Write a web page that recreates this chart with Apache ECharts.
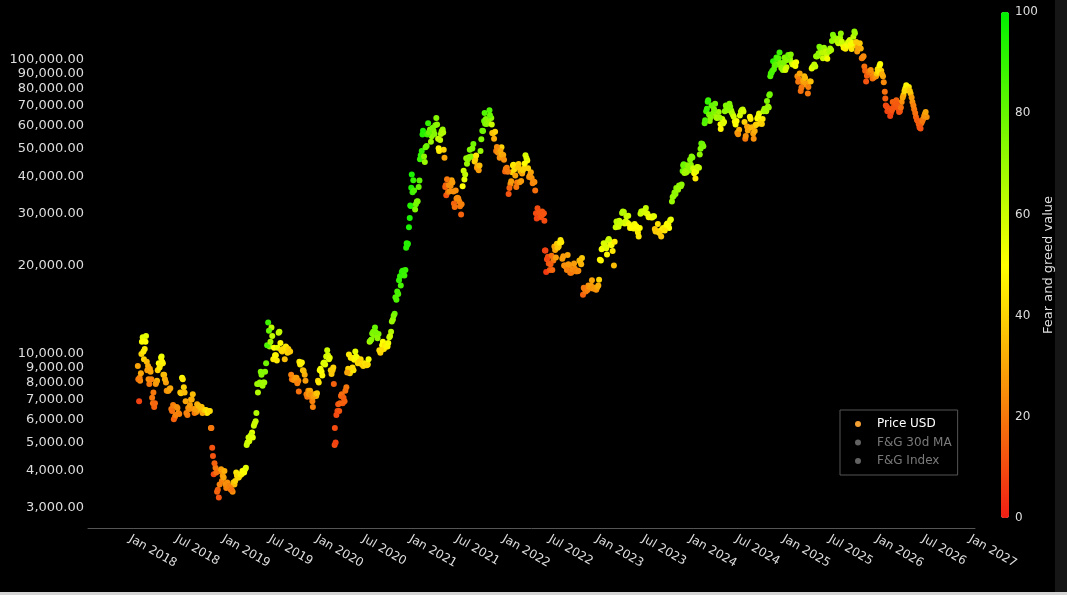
<!DOCTYPE html>
<html>
<head>
<meta charset="utf-8">
<script src="https://cdn.jsdelivr.net/npm/echarts@6/dist/echarts.min.js"></script>
<style>
html,body{margin:0;padding:0;background:#d4d4d4;}
#wrap{width:1067px;height:592px;background:#161616;}
#chart{width:1055px;height:592px;background:#000;}
</style>
</head>
<body>
<div id="wrap"><div id="chart"></div></div>
<script>
// [date, price USD, fear & greed value]
const d2018 = [
['2018-02-01',9100,30],['2018-02-06',6900,8],['2018-02-10',8100,25],['2018-02-15',10000,40],['2018-02-20',11400,55],
['2018-02-25',9600,40],['2018-03-03',11000,50],['2018-03-08',9400,35],['2018-03-13',9100,32],['2018-03-18',7900,20],
['2018-03-23',8700,30],['2018-03-29',7100,20],['2018-04-01',6800,18],['2018-04-06',6600,15],['2018-04-12',7900,25],
['2018-04-17',8100,35],['2018-04-24',9300,50],['2018-05-01',9200,45],['2018-05-05',9800,55],['2018-05-10',9300,45],
['2018-05-15',8500,35],['2018-05-22',8000,28],['2018-05-29',7500,25],['2018-06-05',7600,28],['2018-06-12',6500,20],
['2018-06-19',6700,22],['2018-06-26',6100,18],['2018-07-03',6600,25],['2018-07-10',6300,25],['2018-07-17',7400,35],
['2018-07-24',8300,50],['2018-07-31',7700,40],['2018-08-07',6900,30],['2018-08-14',6200,20],['2018-08-21',6500,25],
['2018-08-28',7000,30],['2018-09-04',7300,35],['2018-09-11',6300,20],['2018-09-18',6350,25],['2018-09-25',6450,30],
['2018-10-02',6550,35],['2018-10-09',6600,38],['2018-10-16',6450,32],['2018-10-23',6400,40],['2018-10-30',6300,45],
['2018-11-06',6400,40],['2018-11-14',5600,25],['2018-11-19',4800,12],['2018-11-25',3900,10],['2018-12-02',4100,20],
['2018-12-08',3400,15],['2018-12-15',3250,12],['2018-12-20',4000,25],['2018-12-27',3700,22],
['2018-02-03',8200,20],['2018-02-08',8300,22],['2018-02-13',8600,30],['2018-02-17',11000,50],['2018-02-23',10200,45],
['2018-02-28',10400,45],['2018-03-05',11500,55],['2018-03-10',8800,28],['2018-03-15',8200,25],['2018-03-20',8900,30],
['2018-03-26',8200,22],['2018-04-03',7400,20],['2018-04-09',6800,16],['2018-04-14',8000,28],['2018-04-20',8800,40],
['2018-04-27',9000,45],['2018-05-03',9700,52],['2018-05-07',9400,48],['2018-05-12',8500,35],['2018-05-18',8200,32],
['2018-05-25',7500,25],['2018-06-01',7500,28],['2018-06-08',7650,30],['2018-06-15',6400,18],['2018-06-22',6000,15],
['2018-06-29',6200,22],['2018-07-06',6550,25],['2018-07-13',6250,22],['2018-07-20',7350,38],['2018-07-27',8200,45],
['2018-08-03',7400,35],['2018-08-10',6300,22],['2018-08-17',6550,25],['2018-08-24',6700,28],['2018-08-31',7000,32],
['2018-09-07',6500,25],['2018-09-14',6500,28],['2018-09-21',6750,32],['2018-09-28',6650,35],['2018-10-05',6600,35],
['2018-10-12',6300,30],['2018-10-19',6450,38],['2018-10-26',6450,42],['2018-11-02',6350,45],['2018-11-10',6400,42],
['2018-11-16',5600,20],['2018-11-22',4500,12],['2018-11-28',4250,15],['2018-12-05',3950,18],['2018-12-11',3450,15],
['2018-12-18',3600,22],['2018-12-24',4050,28],['2018-12-30',3850,28]
];
const d2019 = [
['2019-01-03',3800,30],['2019-01-10',3600,25],['2019-01-17',3650,25],['2019-01-24',3550,22],['2019-01-31',3450,20],
['2019-02-07',3400,25],['2019-02-14',3600,35],['2019-02-21',3950,45],['2019-02-28',3800,40],['2019-03-07',3850,45],
['2019-03-14',3900,48],['2019-03-21',4000,50],['2019-03-28',4050,55],['2019-04-03',4900,60],['2019-04-10',5200,58],
['2019-04-17',5250,60],['2019-04-24',5400,55],['2019-05-01',5700,60],['2019-05-08',5900,62],['2019-05-14',7900,68],
['2019-05-21',7900,70],['2019-05-28',8700,75],['2019-06-04',7800,68],['2019-06-11',8000,70],['2019-06-18',9300,78],
['2019-06-26',12800,88],['2019-07-02',10600,70],['2019-07-09',12300,62],['2019-07-16',9600,45],['2019-07-23',9900,50],
['2019-07-30',9500,45],['2019-08-06',11800,60],['2019-08-13',10900,50],['2019-08-20',10200,38],['2019-08-27',10300,40],
['2019-09-03',10600,45],['2019-09-10',10100,40],['2019-09-17',10200,40],['2019-09-24',8500,22],['2019-10-01',8300,25],
['2019-10-08',8200,28],['2019-10-15',8300,30],['2019-10-22',8100,25],['2019-10-26',9400,45],['2019-11-02',9300,48],
['2019-11-09',8800,38],['2019-11-16',8500,32],['2019-11-23',7300,22],['2019-11-30',7500,25],['2019-12-07',7500,30],
['2019-12-14',7100,25],['2019-12-18',6600,22],['2019-12-24',7300,30],['2019-12-31',7200,35],
['2019-01-06',4000,32],['2019-01-13',3500,22],['2019-01-20',3550,24],['2019-01-27',3550,22],['2019-02-03',3450,20],
['2019-02-10',3650,35],['2019-02-17',3700,40],['2019-02-24',3850,42],['2019-03-03',3800,42],['2019-03-10',3900,46],
['2019-03-17',4000,50],['2019-03-24',3950,50],['2019-03-31',4100,55],['2019-04-06',5000,60],['2019-04-13',5050,58],
['2019-04-20',5300,60],['2019-04-27',5200,55],['2019-05-04',5800,60],['2019-05-11',6300,65],['2019-05-17',7400,65],
['2019-05-24',8000,70],['2019-05-31',8500,74],['2019-06-07',8000,68],['2019-06-14',8700,74],['2019-06-22',10700,85],
['2019-06-29',12000,80],['2019-07-05',11000,68],['2019-07-12',11500,62],['2019-07-19',10500,50],['2019-07-26',9900,48],
['2019-08-02',10500,55],['2019-08-09',11900,62],['2019-08-16',10300,42],['2019-08-23',10400,42],['2019-08-30',9600,35],
['2019-09-06',10500,45],['2019-09-13',10400,40],['2019-09-20',10200,38],['2019-09-27',8200,20],['2019-10-04',8150,25],
['2019-10-11',8300,28],['2019-10-18',7950,22],['2019-10-24',7450,18],['2019-10-29',9200,45],['2019-11-05',9350,48],
['2019-11-12',8750,35],['2019-11-19',8100,28],['2019-11-26',7150,20],['2019-12-03',7300,28],['2019-12-10',7250,25],
['2019-12-16',6900,22],['2019-12-21',7150,28],['2019-12-28',7300,32]
];
const d2020 = [
['2020-01-07',8100,40],['2020-01-14',8800,50],['2020-01-21',8700,50],['2020-01-28',9300,55],['2020-02-04',9200,55],
['2020-02-12',10300,60],['2020-02-19',9600,55],['2020-02-26',8800,40],['2020-03-04',8800,38],['2020-03-09',7900,15],
['2020-03-12',4900,10],['2020-03-16',5000,8],['2020-03-23',6400,10],['2020-03-30',6400,12],['2020-04-06',7200,15],
['2020-04-13',6800,12],['2020-04-20',6900,15],['2020-04-27',7700,20],['2020-05-04',8900,40],['2020-05-11',8600,40],
['2020-05-18',9700,48],['2020-05-25',8800,45],['2020-06-01',10200,55],['2020-06-08',9700,50],['2020-06-15',9400,40],
['2020-06-22',9600,42],['2020-06-29',9200,40],['2020-07-06',9300,45],['2020-07-13',9250,42],['2020-07-20',9200,44],
['2020-07-27',11000,65],['2020-08-03',11200,75],['2020-08-10',11900,75],['2020-08-17',12300,80],['2020-08-24',11700,78],
['2020-08-31',11700,75],['2020-09-07',10100,40],['2020-09-14',10700,50],['2020-09-21',10400,45],['2020-09-28',10800,48],
['2020-10-05',10600,50],['2020-10-12',11400,60],['2020-10-19',11900,65],['2020-10-26',13100,70],['2020-11-02',13700,80],
['2020-11-09',15300,85],['2020-11-16',16000,85],['2020-11-23',18400,90],['2020-11-30',19000,92],['2020-12-07',19200,90],
['2020-12-14',19300,88],['2020-12-17',23000,92],['2020-12-21',23500,92],['2020-12-28',27000,95],
['2020-01-03',7350,38],['2020-01-10',8000,45],['2020-01-17',8900,52],['2020-01-24',8450,48],['2020-01-31',9350,56],
['2020-02-08',9800,58],['2020-02-15',9900,58],['2020-02-22',9700,55],['2020-02-29',8550,38],['2020-03-07',9000,40],
['2020-03-13',5600,10],['2020-03-19',6200,10],['2020-03-26',6750,12],['2020-04-02',6800,15],['2020-04-09',7300,17],
['2020-04-16',7100,14],['2020-04-23',7500,18],['2020-04-30',8650,30],['2020-05-07',9950,45],['2020-05-14',9700,45],
['2020-05-21',9000,42],['2020-05-28',9550,48],['2020-06-04',9800,52],['2020-06-11',9300,42],['2020-06-18',9400,40],
['2020-06-25',9250,42],['2020-07-02',9100,40],['2020-07-09',9250,44],['2020-07-16',9150,42],['2020-07-23',9600,52],
['2020-07-30',11100,72],['2020-08-06',11750,76],['2020-08-13',11600,74],['2020-08-20',11850,76],['2020-08-27',11300,72],
['2020-09-03',10300,42],['2020-09-10',10300,42],['2020-09-17',11000,50],['2020-09-24',10700,46],['2020-10-01',10600,48],
['2020-10-08',10900,52],['2020-10-15',11500,60],['2020-10-22',12900,70],['2020-10-29',13500,75],['2020-11-05',15600,84],
['2020-11-12',16300,86],['2020-11-19',17800,90],['2020-11-26',17100,86],['2020-12-03',19200,90],['2020-12-10',18500,88],
['2020-12-19',23800,92],['2020-12-24',23700,93],['2020-12-31',29000,95]
];
const d2021 = [
['2021-01-04',31900,92],['2021-01-08',40800,95],['2021-01-14',39000,90],['2021-01-21',31000,75],['2021-01-28',33000,75],
['2021-02-04',37000,80],['2021-02-09',46000,88],['2021-02-16',49000,90],['2021-02-21',57500,94],['2021-02-28',45000,70],
['2021-03-07',51000,80],['2021-03-13',61000,90],['2021-03-20',58000,75],['2021-03-27',55000,72],['2021-04-03',57500,75],
['2021-04-10',60000,78],['2021-04-14',63500,74],['2021-04-21',54000,60],['2021-04-25',49000,45],['2021-05-02',56000,65],
['2021-05-09',58000,70],['2021-05-13',49500,40],['2021-05-19',37000,15],['2021-05-23',34700,12],['2021-05-30',35600,20],
['2021-06-06',35800,25],['2021-06-13',39000,30],['2021-06-20',35700,25],['2021-06-22',32500,15],['2021-06-29',36000,25],
['2021-07-06',34000,25],['2021-07-13',33000,22],['2021-07-20',29800,15],['2021-07-26',37200,50],['2021-08-02',39200,55],
['2021-08-09',46300,70],['2021-08-16',46000,72],['2021-08-23',49500,75],['2021-08-30',47000,72],['2021-09-06',51800,78],
['2021-09-08',46800,40],['2021-09-13',46000,38],['2021-09-20',43000,25],['2021-09-27',42200,28],['2021-10-04',49000,70],
['2021-10-11',57500,78],['2021-10-18',62000,80],['2021-10-20',66000,84],['2021-10-25',63000,75],['2021-11-01',61000,72],
['2021-11-08',67500,84],['2021-11-15',63500,72],['2021-11-19',56500,40],['2021-11-26',54000,32],['2021-12-04',49000,20],
['2021-12-11',48500,25],['2021-12-18',46500,25],['2021-12-25',50500,40],
['2021-01-02',32000,93],['2021-01-06',36800,94],['2021-01-11',35500,88],['2021-01-17',36000,85],['2021-01-24',32300,78],
['2021-01-31',33100,76],['2021-02-07',38900,82],['2021-02-12',47400,90],['2021-02-19',55800,93],['2021-02-25',47000,72],
['2021-03-03',50500,78],['2021-03-10',55800,86],['2021-03-16',56800,80],['2021-03-24',52700,70],['2021-03-31',58800,76],
['2021-04-07',56000,74],['2021-04-17',60300,72],['2021-04-23',50100,48],['2021-04-29',53500,62],['2021-05-05',57200,68],
['2021-05-11',56700,65],['2021-05-16',46500,30],['2021-05-21',37500,15],['2021-05-26',39300,20],['2021-06-02',37600,25],
['2021-06-09',37300,25],['2021-06-16',38300,28],['2021-06-25',31600,18],['2021-07-02',33800,24],['2021-07-09',33800,24],
['2021-07-16',31800,20],['2021-07-22',32300,22],['2021-07-30',42000,60],['2021-08-05',40800,62],['2021-08-12',44400,70],
['2021-08-19',46700,72],['2021-08-26',46900,73],['2021-09-02',50000,75],['2021-09-11',45200,40],['2021-09-17',47300,45],
['2021-09-22',43600,30],['2021-09-30',43800,35],['2021-10-07',53800,75],['2021-10-14',57400,78],['2021-10-22',60700,76],
['2021-10-28',60600,74],['2021-11-04',61400,72],['2021-11-10',64900,80],['2021-11-17',60400,60],['2021-11-22',56300,35],
['2021-11-30',57000,40],['2021-12-07',50600,24],['2021-12-14',48400,25],['2021-12-21',49000,30],['2021-12-28',47600,35]
];
const d2022 = [
['2022-01-01',47500,30],['2022-01-08',41800,15],['2022-01-15',43000,22],['2022-01-22',35000,12],['2022-01-29',37900,25],
['2022-02-05',41500,40],['2022-02-10',44000,48],['2022-02-17',40500,30],['2022-02-24',38300,20],['2022-03-02',44300,40],
['2022-03-09',41900,35],['2022-03-16',41100,30],['2022-03-23',42800,40],['2022-03-29',47400,58],['2022-04-05',45500,50],
['2022-04-12',40000,25],['2022-04-19',41500,30],['2022-04-26',38100,22],['2022-05-03',38500,25],['2022-05-09',30100,10],
['2022-05-12',28900,8],['2022-05-19',30300,10],['2022-05-26',29200,10],['2022-06-02',30500,12],['2022-06-09',30100,12],
['2022-06-13',22500,8],['2022-06-18',19000,6],['2022-06-25',21400,10],['2022-07-02',19300,12],['2022-07-09',21600,18],
['2022-07-16',20800,20],['2022-07-20',23200,30],['2022-07-30',23700,38],['2022-08-06',23200,40],['2022-08-13',24400,45],
['2022-08-20',21100,28],['2022-08-27',20000,25],['2022-09-03',19800,22],['2022-09-10',21700,30],['2022-09-17',20000,25],
['2022-09-24',18900,22],['2022-10-01',19300,22],['2022-10-08',19500,25],['2022-10-15',19100,22],['2022-10-22',19200,25],
['2022-10-29',20600,35],['2022-11-05',21200,38],['2022-11-09',15900,15],['2022-11-16',16600,22],['2022-11-23',16500,20],
['2022-11-30',17100,25],['2022-12-07',16800,28],['2022-12-14',17800,30],['2022-12-21',16800,28],['2022-12-28',16600,26],
['2022-01-04',45800,25],['2022-01-11',42700,20],['2022-01-19',41700,20],['2022-01-25',36700,15],['2022-02-01',38700,28],
['2022-02-08',43800,45],['2022-02-14',42500,42],['2022-02-21',37000,20],['2022-02-28',43200,38],['2022-03-06',38400,25],
['2022-03-12',38800,28],['2022-03-19',42200,40],['2022-03-26',44500,50],['2022-04-02',46300,55],['2022-04-08',42800,40],
['2022-04-15',40500,28],['2022-04-22',39700,26],['2022-04-29',38600,24],['2022-05-06',36000,18],['2022-05-15',31300,10],
['2022-05-22',30300,12],['2022-05-29',29400,12],['2022-06-05',29900,12],['2022-06-11',28400,10],['2022-06-15',22500,8],
['2022-06-21',21000,9],['2022-06-28',20300,11],['2022-07-05',20200,14],['2022-07-12',19300,16],['2022-07-23',22600,30],
['2022-07-26',21300,28],['2022-08-02',23000,38],['2022-08-10',23900,44],['2022-08-16',24000,45],['2022-08-24',21500,28],
['2022-08-31',20000,25],['2022-09-07',19300,22],['2022-09-13',20200,27],['2022-09-20',18900,20],['2022-09-28',19400,24],
['2022-10-05',20300,28],['2022-10-12',19100,22],['2022-10-19',19100,24],['2022-10-26',20800,35],['2022-11-02',20200,33],
['2022-11-12',16800,20],['2022-11-20',16300,20],['2022-11-27',16500,22],['2022-12-03',16900,26],['2022-12-10',17100,28],
['2022-12-17',16700,26],['2022-12-24',16800,27],['2022-12-31',16550,26]
];
const d2023 = [
['2023-01-04',16850,30],['2023-01-11',17900,40],['2023-01-18',20800,50],['2023-01-25',22900,55],['2023-02-01',23700,58],
['2023-02-08',22900,55],['2023-02-15',24300,60],['2023-02-22',24200,55],['2023-03-01',23500,50],['2023-03-10',20000,35],
['2023-03-17',27000,60],['2023-03-24',27600,62],['2023-03-31',28400,60],['2023-04-07',28000,60],['2023-04-14',30500,65],
['2023-04-21',27800,55],['2023-04-28',29400,60],['2023-05-05',29500,60],['2023-05-12',26800,48],['2023-05-19',26900,50],
['2023-05-26',26700,48],['2023-06-02',27200,50],['2023-06-09',26500,48],['2023-06-15',25100,45],['2023-06-22',30000,60],
['2023-06-29',30400,62],['2023-07-06',30500,60],['2023-07-13',31400,62],['2023-07-20',29900,55],['2023-07-27',29300,52],
['2023-08-03',29200,52],['2023-08-10',29400,55],['2023-08-17',26600,38],['2023-08-24',26200,38],['2023-08-31',26000,40],
['2023-09-07',26200,42],['2023-09-14',26500,45],['2023-09-21',26600,46],['2023-09-28',27000,48],['2023-10-05',27800,50],
['2023-10-12',26800,50],['2023-10-19',28700,55],['2023-10-23',33000,70],['2023-10-30',34500,72],['2023-11-06',35000,72],
['2023-11-13',36500,70],['2023-11-20',37400,72],['2023-11-27',37200,70],['2023-12-04',41900,78],['2023-12-08',44200,80],
['2023-12-15',42000,70],['2023-12-22',43900,72],['2023-12-29',42100,72],
['2023-01-08',17100,32],['2023-01-14',20900,48],['2023-01-21',22700,52],['2023-01-29',23800,58],['2023-02-04',23300,56],
['2023-02-11',21800,48],['2023-02-18',24600,60],['2023-02-26',23500,52],['2023-03-05',22400,45],['2023-03-13',24100,45],
['2023-03-20',28200,62],['2023-03-28',27100,58],['2023-04-03',27800,60],['2023-04-11',30200,65],['2023-04-18',30400,64],
['2023-04-25',28300,58],['2023-05-01',28000,58],['2023-05-08',27700,52],['2023-05-16',27000,50],['2023-05-23',27200,50],
['2023-05-30',27700,52],['2023-06-06',27200,50],['2023-06-12',25900,46],['2023-06-19',26800,50],['2023-06-25',30500,62],
['2023-07-02',30600,60],['2023-07-09',30300,58],['2023-07-17',30100,56],['2023-07-24',29200,52],['2023-07-31',29200,52],
['2023-08-07',29100,52],['2023-08-14',29400,55],['2023-08-20',26100,38],['2023-08-29',27700,44],['2023-09-04',25800,40],
['2023-09-11',25100,38],['2023-09-18',26800,46],['2023-09-25',26300,44],['2023-10-02',27500,50],['2023-10-09',27600,50],
['2023-10-16',28500,54],['2023-10-26',34200,70],['2023-11-02',35400,72],['2023-11-09',36700,72],['2023-11-16',36200,70],
['2023-11-23',37300,70],['2023-11-30',37700,72],['2023-12-06',43800,78],['2023-12-11',41300,68],['2023-12-18',41400,68],
['2023-12-25',43600,72]
];
const d2024 = [
['2024-01-05',44000,72],['2024-01-11',46600,75],['2024-01-18',41200,50],['2024-01-23',39500,45],['2024-01-30',43300,60],
['2024-02-06',43000,65],['2024-02-12',49900,75],['2024-02-19',51800,78],['2024-02-28',61000,82],['2024-03-05',67000,88],
['2024-03-13',73000,88],['2024-03-19',62000,72],['2024-03-26',70000,80],['2024-04-02',66000,74],['2024-04-09',71000,78],
['2024-04-16',63500,65],['2024-04-23',66500,70],['2024-04-30',60500,50],['2024-05-07',63000,60],['2024-05-14',61500,55],
['2024-05-21',70000,75],['2024-05-28',68500,72],['2024-06-04',71000,75],['2024-06-11',67300,68],['2024-06-18',65000,60],
['2024-06-25',61800,48],['2024-07-02',62000,50],['2024-07-05',56600,28],['2024-07-12',57900,32],['2024-07-19',66700,60],
['2024-07-26',67900,62],['2024-08-02',61500,40],['2024-08-05',54000,20],['2024-08-12',59400,30],['2024-08-19',59000,30],
['2024-08-26',63000,45],['2024-09-02',59000,32],['2024-09-07',54000,25],['2024-09-14',60000,38],['2024-09-21',63300,50],
['2024-09-28',65800,55],['2024-10-05',62000,42],['2024-10-12',63000,45],['2024-10-19',68300,70],['2024-10-26',67000,65],
['2024-10-29',72500,75],['2024-11-05',69000,70],['2024-11-09',76500,78],['2024-11-13',90000,85],['2024-11-19',92000,88],
['2024-11-22',99000,92],['2024-12-01',97000,85],['2024-12-05',102000,88],['2024-12-10',96500,78],['2024-12-17',106000,88],
['2024-12-24',94000,72],['2024-12-30',92500,70],
['2024-01-02',45800,74],['2024-01-08',47000,74],['2024-01-14',42800,60],['2024-01-21',41600,52],['2024-01-26',41800,55],
['2024-02-02',43200,62],['2024-02-09',47700,72],['2024-02-15',52000,80],['2024-02-23',50900,76],['2024-03-01',62400,85],
['2024-03-08',68300,88],['2024-03-11',72100,90],['2024-03-16',65300,78],['2024-03-22',63800,74],['2024-03-29',69900,80],
['2024-04-05',68000,76],['2024-04-13',64000,68],['2024-04-19',63800,66],['2024-04-26',63700,68],['2024-05-01',58300,48],
['2024-05-10',60800,56],['2024-05-17',67000,72],['2024-05-24',68500,74],['2024-05-31',67500,72],['2024-06-07',69300,74],
['2024-06-14',66000,65],['2024-06-21',64100,58],['2024-06-28',60300,50],['2024-07-08',55900,26],['2024-07-15',64800,58],
['2024-07-22',67500,62],['2024-07-29',66800,58],['2024-08-07',55100,25],['2024-08-15',57600,30],['2024-08-23',64100,48],
['2024-08-29',59000,34],['2024-09-05',56200,28],['2024-09-11',57300,32],['2024-09-17',60300,40],['2024-09-25',64300,52],
['2024-10-01',60800,42],['2024-10-09',60600,40],['2024-10-15',67000,65],['2024-10-22',67400,68],['2024-11-02',69500,70],
['2024-11-07',75900,78],['2024-11-11',88000,84],['2024-11-16',90500,86],['2024-11-25',93000,84],['2024-11-28',95600,82],
['2024-12-08',101000,85],['2024-12-13',101500,84],['2024-12-20',97700,76],['2024-12-27',94200,72]
];
const d2025 = [
['2025-01-06',102000,75],['2025-01-13',94500,60],['2025-01-20',104000,80],['2025-01-27',101000,70],['2025-02-03',98000,65],
['2025-02-10',97000,55],['2025-02-17',95500,50],['2025-02-25',88000,25],['2025-03-03',86000,22],['2025-03-10',78500,18],
['2025-03-17',84000,25],['2025-03-24',88000,35],['2025-03-31',82500,30],['2025-04-07',77000,20],['2025-04-14',84500,35],
['2025-04-22',93500,55],['2025-04-29',95000,60],['2025-05-06',95000,62],['2025-05-09',103000,72],['2025-05-16',103500,70],
['2025-05-22',111000,76],['2025-05-29',106000,72],['2025-06-05',101500,60],['2025-06-12',108000,68],['2025-06-19',104500,60],
['2025-06-26',107000,65],['2025-07-03',109500,68],['2025-07-10',116000,72],['2025-07-14',122000,76],['2025-07-21',117500,70],
['2025-07-28',118000,68],['2025-08-04',114000,60],['2025-08-11',119000,70],['2025-08-14',123000,72],['2025-08-21',113000,55],
['2025-08-28',112000,52],['2025-09-04',111000,50],['2025-09-11',115000,58],['2025-09-18',117000,60],['2025-09-25',109000,45],
['2025-10-02',120000,62],['2025-10-06',125000,72],['2025-10-10',112000,40],['2025-10-17',107000,28],['2025-10-24',111000,35],
['2025-10-31',109500,33],['2025-11-07',102000,25],['2025-11-14',95000,18],['2025-11-21',84500,12],['2025-11-28',91500,20],
['2025-12-05',89500,22],['2025-12-12',90000,25],['2025-12-19',87000,20],['2025-12-26',88500,25],
['2025-01-03',98000,76],['2025-01-09',92500,58],['2025-01-16',100000,74],['2025-01-23',103500,78],['2025-01-30',104500,74],
['2025-02-06',96500,58],['2025-02-13',96600,52],['2025-02-20',98300,52],['2025-02-28',84300,20],['2025-03-06',90000,30],
['2025-03-13',80600,20],['2025-03-20',85000,30],['2025-03-27',86900,34],['2025-04-03',83100,28],['2025-04-09',81000,22],
['2025-04-18',84500,36],['2025-04-25',94600,58],['2025-05-02',96500,62],['2025-05-12',102800,70],['2025-05-19',105500,72],
['2025-05-26',109400,74],['2025-06-02',105800,64],['2025-06-09',110200,70],['2025-06-16',106800,62],['2025-06-22',101000,52],
['2025-06-30',107200,66],['2025-07-07',108200,66],['2025-07-17',119800,74],['2025-07-24',118400,70],['2025-07-31',115800,64],
['2025-08-07',117500,66],['2025-08-18',115500,60],['2025-08-25',110200,48],['2025-09-01',109200,46],['2025-09-08',112100,52],
['2025-09-15',115400,56],['2025-09-22',112700,48],['2025-09-29',114300,52],['2025-10-08',123300,68],['2025-10-13',115200,38],
['2025-10-20',110500,30],['2025-10-27',114100,38],['2025-11-04',101500,22],['2025-11-11',103000,24],['2025-11-17',92000,15],
['2025-11-24',88500,14],['2025-12-02',91000,20],['2025-12-09',92500,25],['2025-12-16',86500,18],['2025-12-23',87500,22],
['2025-12-30',88000,26]
];
const d2026 = [
['2026-01-05',93000,42],['2026-01-12',95500,48],['2026-01-19',92000,38],['2026-01-26',88000,30],['2026-02-02',78000,18],
['2026-02-06',70000,10],['2026-02-12',67000,8],['2026-02-19',68000,10],['2026-02-26',66000,10],['2026-03-05',72000,15],
['2026-03-12',70000,12],['2026-03-19',73000,15],['2026-03-26',68500,12],['2026-04-02',67000,12],['2026-04-09',72000,25],
['2026-04-16',76000,35],['2026-04-23',80000,45],['2026-04-30',79000,42],['2026-05-07',81000,45],['2026-05-14',77000,35],
['2026-05-21',72000,25],['2026-05-28',68000,20],['2026-06-04',64000,15],['2026-06-11',62000,15],['2026-06-18',59000,12],
['2026-06-25',61000,18],['2026-07-02',63000,22],['2026-07-09',65500,28],['2026-07-16',64000,25],
['2026-01-02',90000,38],['2026-01-08',91500,44],['2026-01-15',97000,50],['2026-01-22',89500,32],['2026-01-29',84000,24],
['2026-02-04',74000,14],['2026-02-09',69500,9],['2026-02-16',68500,10],['2026-02-23',64500,8],['2026-03-02',67500,12],
['2026-03-09',69000,12],['2026-03-16',71500,14],['2026-03-23',70500,13],['2026-03-30',66500,11],['2026-04-06',69000,18],
['2026-04-13',74500,30],['2026-04-20',78500,42],['2026-04-27',82000,48],['2026-05-04',79500,42],['2026-05-11',78500,38],
['2026-05-18',74500,28],['2026-05-25',70000,22],['2026-06-01',66000,18],['2026-06-08',62500,14],['2026-06-15',60500,14],
['2026-06-22',58500,12],['2026-06-29',62000,20],['2026-07-06',64500,26],['2026-07-12',66500,30]
];

const yTickValues = [3000,4000,5000,6000,7000,8000,9000,10000,20000,30000,40000,50000,60000,70000,80000,90000,100000];
const xTickDates = ['2018-01-01','2018-07-01','2019-01-01','2019-07-01','2020-01-01','2020-07-01','2021-01-01','2021-07-01',
  '2022-01-01','2022-07-01','2023-01-01','2023-07-01','2024-01-01','2024-07-01','2025-01-01','2025-07-01','2026-01-01','2026-07-01','2027-01-01'];
const xTickLabels = ['Jan 2018','Jul 2018','Jan 2019','Jul 2019','Jan 2020','Jul 2020','Jan 2021','Jul 2021',
  'Jan 2022','Jul 2022','Jan 2023','Jul 2023','Jan 2024','Jul 2024','Jan 2025','Jul 2025','Jan 2026','Jul 2026','Jan 2027'];
const fngTicks = [0,20,40,60,80,100];
const legendNames = ['Price USD','F&G 30d MA','F&G Index'];

const rows = [].concat(d2018,d2019,d2020,d2021,d2022,d2023,d2024,d2025,d2026);
const Y_MIN = 2558, Y_MAX = 152700;
const FONT = 'DejaVu Sans, Verdana, sans-serif';
const ts = s => Date.parse(s + 'T00:00:00Z');
const tickTs = xTickDates.map(ts);

const chart = echarts.init(document.getElementById('chart'), null, {renderer:'canvas'});
chart.setOption({
  backgroundColor: '#000',
  animation: false,
  textStyle: {fontFamily: FONT},
  grid: [
    {left: 88, top: 6, width: 887, height: 522, containLabel: false, outerBoundsMode: 'none'},
    {left: 1001, top: 12, width: 8, height: 506, containLabel: false, outerBoundsMode: 'none'}
  ],
  legend: {
    data: legendNames,
    selected: {'F&G 30d MA': false, 'F&G Index': false},
    orient: 'vertical',
    left: 840, top: 410,
    padding: [8, 6, 8, 15],
    itemGap: 6.5,
    itemWidth: 6, itemHeight: 6,
    icon: 'circle',
    borderColor: '#555', borderWidth: 1,
    inactiveColor: '#7a7a7a',
    textStyle: {color: '#ffffff', fontSize: 12, fontFamily: FONT, padding: [0,0,0,11]}
  },
  visualMap: {
    type: 'continuous',
    min: 0, max: 100,
    dimension: 2,
    seriesIndex: 0,
    orient: 'vertical',
    left: 1001, top: 12,
    itemWidth: 8, itemHeight: 506,
    padding: 0,
    calculable: false,
    hoverLink: false,
    text: null,
    showLabel: false,
    inRange: {color: ['#f01e14', '#ffff00', '#00f000']}
  },
  xAxis: [
    {
      type: 'value', gridIndex: 0,
      min: ts('2017-07-21'), max: ts('2027-01-21'),
      axisLine: {show: true, onZero: false, lineStyle: {color: '#555', width: 1}},
      axisTick: {show: false},
      splitLine: {show: false},
      axisLabel: {
        customValues: tickTs,
        rotate: -30,
        margin: 10,
        color: '#dddddd', fontSize: 12, fontFamily: FONT,
        formatter: function (v) {
          const i = tickTs.findIndex(t => Math.abs(t - v) < 2 * 86400000);
          return i >= 0 ? xTickLabels[i] : '';
        }
      }
    },
    {type: 'value', gridIndex: 1, show: false, min: 0, max: 1}
  ],
  yAxis: [
    {
      type: 'log', gridIndex: 0, logBase: 10, min: Y_MIN, max: Y_MAX,
      axisLine: {show: false}, axisTick: {show: false}, axisLabel: {show: false}, splitLine: {show: false}
    },
    {
      type: 'value', gridIndex: 0, position: 'left',
      min: Math.log10(Y_MIN), max: Math.log10(Y_MAX),
      axisLine: {show: false}, axisTick: {show: false}, splitLine: {show: false},
      name: 'USD price', nameLocation: 'middle', nameRotate: 90, nameGap: 79,
      nameTextStyle: {color: '#dddddd', fontSize: 13, fontFamily: FONT},
      axisLabel: {
        customValues: yTickValues.map(v => Math.log10(v)),
        margin: 4,
        color: '#dddddd', fontSize: 13, fontFamily: FONT,
        formatter: function (v) {
          return Math.round(Math.pow(10, v)).toLocaleString('en-US') + '.00';
        }
      }
    },
    {type: 'value', gridIndex: 0, show: false, min: 0, max: 100},
    {
      type: 'value', gridIndex: 1, position: 'right', min: 0, max: 100, interval: 20,
      axisLine: {show: false}, axisTick: {show: false}, splitLine: {show: false},
      name: 'Fear and greed value', nameLocation: 'middle', nameRotate: 90, nameGap: 33,
      nameTextStyle: {color: '#dddddd', fontSize: 13, fontFamily: FONT},
      axisLabel: {
        customValues: fngTicks,
        margin: 6, color: '#dddddd', fontSize: 12, fontFamily: FONT
      }
    }
  ],
  series: [
    {
      name: 'Price USD', type: 'scatter',
      xAxisIndex: 0, yAxisIndex: 0,
      symbolSize: 6,
      itemStyle: {color: '#f5a033', opacity: 1},
      data: rows.map(r => [ts(r[0]), r[1], r[2]]),
      encode: {x: 0, y: 1}
    },
    {
      name: 'F&G 30d MA', type: 'scatter',
      xAxisIndex: 0, yAxisIndex: 2, symbolSize: 4,
      itemStyle: {color: '#888'},
      data: []
    },
    {
      name: 'F&G Index', type: 'scatter',
      xAxisIndex: 0, yAxisIndex: 2, symbolSize: 4,
      itemStyle: {color: '#a07040'},
      data: rows.map(r => [ts(r[0]), r[2]])
    }
  ]
});
</script>
</body>
</html>
